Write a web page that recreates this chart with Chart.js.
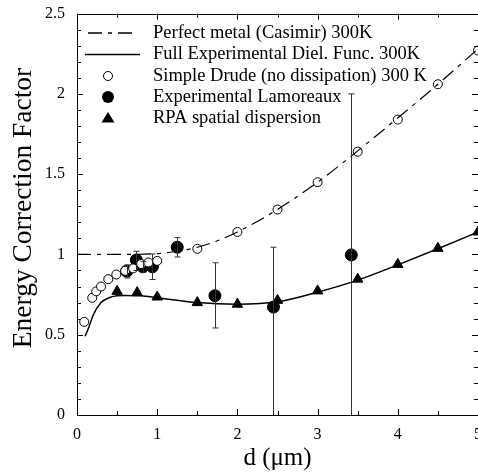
<!DOCTYPE html>
<html lang="en">
<head>
  <meta charset="UTF-8" />
  <title>Energy Correction Factor</title>
  <script src="https://cdn.jsdelivr.net/npm/chart.js"></script>
  <style>
    body {
      margin: 0;
      padding: 0;
      background: white;
      overflow: hidden;
    }
    .wrap {
      width: 485px;
      height: 475px;
    }
  </style>
</head>
<body>
  <div class="wrap"><canvas id="chart" width="485" height="475"></canvas></div>

  <script>
    // Perfect metal (Casimir) 300K
    const pmX = [0, 0.5, 1.0, 1.25, 1.5, 1.75, 2.0, 2.5, 3.0, 3.5, 4.0, 4.5, 5.0];
    const pmY = [1.0, 1.0, 1.005, 1.02, 1.045, 1.085, 1.14, 1.28, 1.45, 1.645, 1.85, 2.06, 2.28];

    // Full Experimental Diel. Func. 300K
    const fullX = [0.1, 0.15, 0.2, 0.3, 0.4, 0.5, 0.6, 0.8, 1.0, 1.5, 2.0, 2.5, 3.0, 3.5, 4.0, 4.5, 5.0];
    const fullY = [0.49, 0.55, 0.62, 0.70, 0.73, 0.742, 0.745, 0.742, 0.73, 0.70, 0.69, 0.705, 0.765, 0.84, 0.935, 1.035, 1.14];

    // Simple Drude (no dissipation) 300 K
    const drudeX = [0.09, 0.19, 0.24, 0.30, 0.39, 0.49, 0.6, 0.7, 0.8, 0.89, 1.0, 1.5, 2.0, 2.5, 3.0, 3.5, 4.0, 4.5, 5.0];
    const drudeY = [0.58, 0.73, 0.77, 0.80, 0.846, 0.875, 0.898, 0.913, 0.94, 0.95, 0.96, 1.035, 1.14, 1.28, 1.45, 1.64, 1.84, 2.06, 2.27];

    // Experimental Lamoreaux, with error bar ends
    const expX = [0.62, 0.74, 0.82, 0.94, 1.25, 1.72, 2.45, 3.42];
    const expY = [0.896, 0.965, 0.923, 0.923, 1.045, 0.743, 0.672, 0.997];
    const expLo = [0.854, 0.90, 0.89, 0.844, 0.984, 0.542, 0, 0];
    const expHi = [0.935, 1.02, 0.955, 1.003, 1.105, 0.948, 1.045, 2.0];

    // RPA spatial dispersion
    const rpaX = [0.5, 0.75, 1.0, 1.5, 2.0, 2.5, 3.0, 3.5, 4.0, 4.5, 5.0];
    const rpaY = [0.77, 0.762, 0.735, 0.70, 0.69, 0.714, 0.773, 0.846, 0.938, 1.038, 1.14];

    const xTicks = [0, 1, 2, 3, 4, 5];
    const yTicks = [0, 0.5, 1, 1.5, 2, 2.5];

    const legendLabels = [
      'Perfect metal (Casimir) 300K',
      'Full Experimental Diel. Func. 300K',
      'Simple Drude (no dissipation) 300 K',
      'Experimental Lamoreaux',
      'RPA spatial dispersion'
    ];
    const yTitle = 'Energy Correction Factor';

    const FONT = '"Liberation Serif", "DejaVu Serif", serif';
    const pts = (xs, ys) => xs.map((x, i) => ({ x, y: ys[i] }));

    // error bars, inner ticks, frame, y title and legend
    const decor = {
      id: 'decor',
      afterDatasetsDraw(chart) {
        const ctx = chart.ctx;
        const xs = chart.scales.x, ys = chart.scales.y;
        ctx.save();
        ctx.strokeStyle = '#333';
        ctx.lineWidth = 1;
        expX.forEach((x, i) => {
          const px = Math.round(xs.getPixelForValue(x)) + 0.5;
          const top = ys.getPixelForValue(expHi[i]);
          const bot = ys.getPixelForValue(expLo[i]);
          ctx.beginPath();
          ctx.moveTo(px, top); ctx.lineTo(px, bot);
          ctx.moveTo(px - 3, top); ctx.lineTo(px + 3, top);
          if (expLo[i] > 0) { ctx.moveTo(px - 3, bot); ctx.lineTo(px + 3, bot); }
          ctx.stroke();
        });
        ctx.restore();
      },
      afterDraw(chart) {
        const ctx = chart.ctx;
        const xs = chart.scales.x, ys = chart.scales.y;
        const a = chart.chartArea;
        ctx.save();
        ctx.strokeStyle = '#000';
        ctx.lineWidth = 1;
        ctx.strokeRect(Math.round(a.left) + 0.5, Math.round(a.top) + 0.5,
          Math.round(a.right - a.left), Math.round(a.bottom - a.top));

        // y ticks every 0.1, longer at 0.5
        ctx.beginPath();
        for (let k = 0; k <= 25; k++) {
          const py = Math.round(ys.getPixelForValue(k / 10)) + 0.5;
          const len = k % 5 === 0 ? 6 : 4;
          ctx.moveTo(a.left, py); ctx.lineTo(a.left + len, py);
          ctx.moveTo(a.right, py); ctx.lineTo(a.right - len, py);
        }
        // x ticks every 0.5
        for (let k = 0; k <= 10; k++) {
          const px = Math.round(xs.getPixelForValue(k / 2)) + 0.5;
          const len = k % 2 === 0 ? 6 : 4;
          ctx.moveTo(px, a.bottom); ctx.lineTo(px, a.bottom - len);
          ctx.moveTo(px, a.top); ctx.lineTo(px, a.top + len);
        }
        ctx.stroke();

        // y axis title
        ctx.save();
        ctx.translate(24, 208);
        ctx.rotate(-Math.PI / 2);
        ctx.font = '27.5px ' + FONT;
        ctx.fillStyle = '#000';
        ctx.textAlign = 'center';
        ctx.textBaseline = 'middle';
        ctx.fillText(yTitle, 0, 0);
        ctx.restore();

        // legend
        const mx = 108, tx = 153;
        const rows = [33, 54.5, 76, 97, 118];
        ctx.font = '18.5px ' + FONT;
        ctx.fillStyle = '#000';
        ctx.textBaseline = 'middle';
        legendLabels.forEach((t, i) => ctx.fillText(t, tx, rows[i]));

        ctx.lineWidth = 1.5;
        ctx.setLineDash([14, 6, 4, 6]);
        ctx.beginPath(); ctx.moveTo(88, rows[0]); ctx.lineTo(132, rows[0]); ctx.stroke();
        ctx.setLineDash([]);
        ctx.beginPath(); ctx.moveTo(85, rows[1]); ctx.lineTo(140, rows[1]); ctx.stroke();

        ctx.lineWidth = 1;
        ctx.beginPath(); ctx.arc(mx, rows[2], 4.5, 0, Math.PI * 2); ctx.stroke();
        ctx.beginPath(); ctx.arc(mx, rows[3], 6, 0, Math.PI * 2); ctx.fill();
        ctx.beginPath();
        ctx.moveTo(mx, rows[4] - 6); ctx.lineTo(mx + 6.5, rows[4] + 4.5); ctx.lineTo(mx - 6.5, rows[4] + 4.5);
        ctx.closePath(); ctx.fill();
        ctx.restore();
      }
    };

    new Chart(document.getElementById('chart'), {
      type: 'scatter',
      data: {
        datasets: [
          {
            label: legendLabels[0],
            data: pts(pmX, pmY),
            showLine: true,
            borderColor: '#000',
            borderWidth: 1.2,
            borderDash: [14, 6, 4, 6],
            pointRadius: 0,
            cubicInterpolationMode: 'monotone'
          },
          {
            label: legendLabels[1],
            data: pts(fullX, fullY),
            showLine: true,
            borderColor: '#000',
            borderWidth: 1.5,
            pointRadius: 0,
            cubicInterpolationMode: 'monotone'
          },
          {
            label: legendLabels[2],
            data: pts(drudeX, drudeY),
            pointStyle: 'circle',
            pointRadius: 4.5,
            pointBorderWidth: 1,
            borderColor: '#000',
            backgroundColor: '#fff',
            clip: false
          },
          {
            label: legendLabels[3],
            data: pts(expX, expY),
            pointStyle: 'circle',
            pointRadius: 6,
            borderColor: '#000',
            backgroundColor: '#000',
            clip: false
          },
          {
            label: legendLabels[4],
            data: pts(rpaX, rpaY),
            pointStyle: 'triangle',
            pointRadius: 6,
            borderColor: '#000',
            backgroundColor: '#000',
            clip: false
          }
        ]
      },
      options: {
        responsive: false,
        animation: false,
        layout: { padding: { top: 9, right: 5, left: 0, bottom: 0 } },
        plugins: {
          legend: { display: false },
          tooltip: { enabled: false }
        },
        scales: {
          x: {
            type: 'linear',
            min: 0,
            max: 5,
            grid: { display: false },
            border: { display: false },
            afterFit: s => { s.height = 60; },
            afterBuildTicks: s => { s.ticks = xTicks.map(v => ({ value: v })); },
            ticks: {
              color: '#000',
              padding: 2,
              font: { family: FONT, size: 16 },
              callback: v => String(v)
            },
            title: {
              display: true,
              text: 'd (\u03bcm)',
              color: '#000',
              padding: { top: 0, bottom: 2 },
              font: { family: FONT, size: 25 }
            }
          },
          y: {
            min: 0,
            max: 2.5,
            grid: { display: false },
            border: { display: false },
            afterFit: s => { s.width = 77; },
            afterBuildTicks: s => { s.ticks = yTicks.map(v => ({ value: v })); },
            ticks: {
              color: '#000',
              padding: 4,
              font: { family: FONT, size: 16 },
              callback: v => String(v)
            }
          }
        }
      },
      plugins: [decor]
    });
  </script>
</body>
</html>
